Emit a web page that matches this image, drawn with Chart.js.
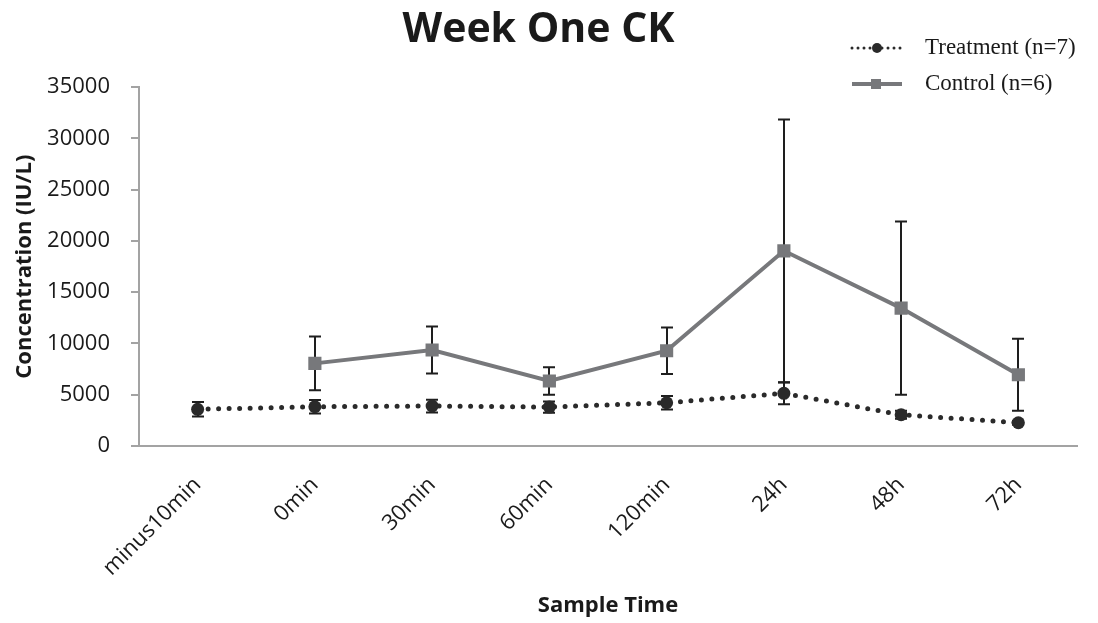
<!DOCTYPE html>
<html>
<head>
<meta charset="utf-8">
<title>Week One CK</title>
<script src="https://cdn.jsdelivr.net/npm/chart.js@4.4.1/dist/chart.umd.min.js"></script>
<style>
  html, body { margin: 0; padding: 0; background: #fff; }
  #wrap { width: 1098px; height: 623px; }
</style>
</head>
<body>
<div id="wrap"><canvas id="ckChart" width="1098" height="623"></canvas></div>
<script>
const sampleTimes = ['minus10min', '0min', '30min', '60min', '120min', '24h', '48h', '72h'];

// mean CK per sample time and its error (IU/L)
const treatmentMean = [3580, 3830, 3900, 3800, 4220, 5140, 3050, 2270];
const treatmentErr = [700, 650, 620, 550, 660, 1060, 400, 200];
const controlMean = [null, 8060, 9360, 6340, 9290, 19040, 13450, 6950];
const controlErr = [null, 2620, 2290, 1350, 2260, 12820, 8460, 3520];

const yTicks = [0, 5000, 10000, 15000, 20000, 25000, 30000, 35000];

const TREAT_COLOR = '#2a2a2a';
const CTRL_COLOR = '#77787b';

// vertical error bars with caps, drawn under the lines and markers
const errorBars = {
    id: 'errorBars',
    beforeDatasetsDraw(chart) {
        const ctx = chart.ctx;
        const y = chart.scales.y;
        ctx.save();
        ctx.strokeStyle = '#1e1e1e';
        ctx.lineWidth = 2;
        chart.data.datasets.forEach((ds, i) => {
            const meta = chart.getDatasetMeta(i);
            meta.data.forEach((pt, j) => {
                const v = ds.data[j];
                const e = ds.errors[j];
                if (v == null || e == null) return;
                const x = Math.round(pt.x);
                const top = y.getPixelForValue(v + e);
                const bot = y.getPixelForValue(v - e);
                ctx.beginPath();
                ctx.moveTo(x, top);
                ctx.lineTo(x, bot);
                ctx.moveTo(x - 6, top);
                ctx.lineTo(x + 6, top);
                ctx.moveTo(x - 6, bot);
                ctx.lineTo(x + 6, bot);
                ctx.stroke();
            });
        });
        ctx.restore();
    }
};

// legend in the top right corner, styled from the datasets
const cornerLegend = {
    id: 'cornerLegend',
    afterDraw(chart) {
        const ctx = chart.ctx;
        const rows = [48, 84];
        ctx.save();
        chart.data.datasets.forEach((ds, i) => {
            const yy = rows[i];
            const dotted = !!ds.borderDash;
            ctx.beginPath();
            ctx.strokeStyle = ds.borderColor;
            ctx.lineWidth = dotted ? 3 : ds.borderWidth;
            ctx.lineCap = ds.borderCapStyle || 'butt';
            ctx.setLineDash(dotted ? [0, 6] : []);
            ctx.moveTo(852, yy);
            ctx.lineTo(902, yy);
            ctx.stroke();
            ctx.setLineDash([]);
            ctx.fillStyle = ds.pointBackgroundColor;
            if (ds.pointStyle === 'rect') {
                ctx.fillRect(871, yy - 5, 10, 10);
            } else {
                ctx.beginPath();
                ctx.arc(877, yy, 5, 0, Math.PI * 2);
                ctx.fill();
            }
            ctx.fillStyle = '#1a1a1a';
            ctx.font = '23px "Liberation Serif"';
            ctx.textBaseline = 'middle';
            ctx.fillText(ds.label, 925, yy);
        });
        ctx.restore();
    }
};

const ctx = document.getElementById('ckChart');

new Chart(ctx, {
    type: 'line',
    data: {
        labels: sampleTimes,
        datasets: [
            {
                label: 'Treatment (n=7)',
                data: treatmentMean,
                errors: treatmentErr,
                borderColor: TREAT_COLOR,
                borderWidth: 5,
                borderDash: [0, 10.5],
                borderCapStyle: 'round',
                pointStyle: 'circle',
                pointRadius: 6.5,
                pointBackgroundColor: TREAT_COLOR,
                pointBorderWidth: 0,
                tension: 0
            },
            {
                label: 'Control (n=6)',
                data: controlMean,
                errors: controlErr,
                borderColor: CTRL_COLOR,
                borderWidth: 4,
                pointStyle: 'rect',
                pointRadius: 9.3,
                pointBackgroundColor: CTRL_COLOR,
                pointBorderWidth: 0,
                tension: 0
            }
        ]
    },
    options: {
        responsive: false,
        animation: false,
        layout: { padding: { left: 0, right: 21, top: 0, bottom: 0 } },
        plugins: {
            legend: { display: false },
            tooltip: { enabled: false },
            title: {
                display: true,
                text: 'Week One CK',
                color: '#1a1a1a',
                font: { family: '"Open Sans"', size: 41, weight: 'bold' },
                padding: { top: 6, bottom: 32 }
            }
        },
        scales: {
            x: {
                offset: true,
                grid: { display: false, drawTicks: false },
                border: { color: '#a3a3a3', width: 2 },
                ticks: {
                    autoSkip: false,
                    minRotation: 45,
                    maxRotation: 45,
                    padding: 26,
                    color: '#1a1a1a',
                    font: { family: '"Open Sans"', size: 22 }
                },
                title: {
                    display: true,
                    text: 'Sample Time',
                    color: '#1a1a1a',
                    font: { family: '"Open Sans"', size: 22, weight: 'bold' },
                    padding: { top: 0, bottom: 4 }
                },
                afterFit(scale) { scale.height = 177; }
            },
            y: {
                min: 0,
                max: 35000,
                afterBuildTicks(scale) {
                    scale.ticks = yTicks.map(v => ({ value: v }));
                },
                grid: {
                    display: true,
                    drawOnChartArea: false,
                    drawTicks: true,
                    tickLength: 8,
                    color: '#a3a3a3',
                    lineWidth: 2
                },
                border: { color: '#a3a3a3', width: 2 },
                ticks: {
                    padding: 21,
                    color: '#1a1a1a',
                    font: { family: '"Open Sans"', size: 22 },
                    callback: v => String(v)
                },
                title: {
                    display: true,
                    text: 'Concentration (IU/L)',
                    color: '#1a1a1a',
                    font: { family: '"Open Sans"', size: 22, weight: 'bold' },
                    padding: { top: 12, bottom: 0 }
                },
                afterFit(scale) { scale.width = 139; }
            }
        }
    },
    plugins: [errorBars, cornerLegend]
});
</script>
</body>
</html>
